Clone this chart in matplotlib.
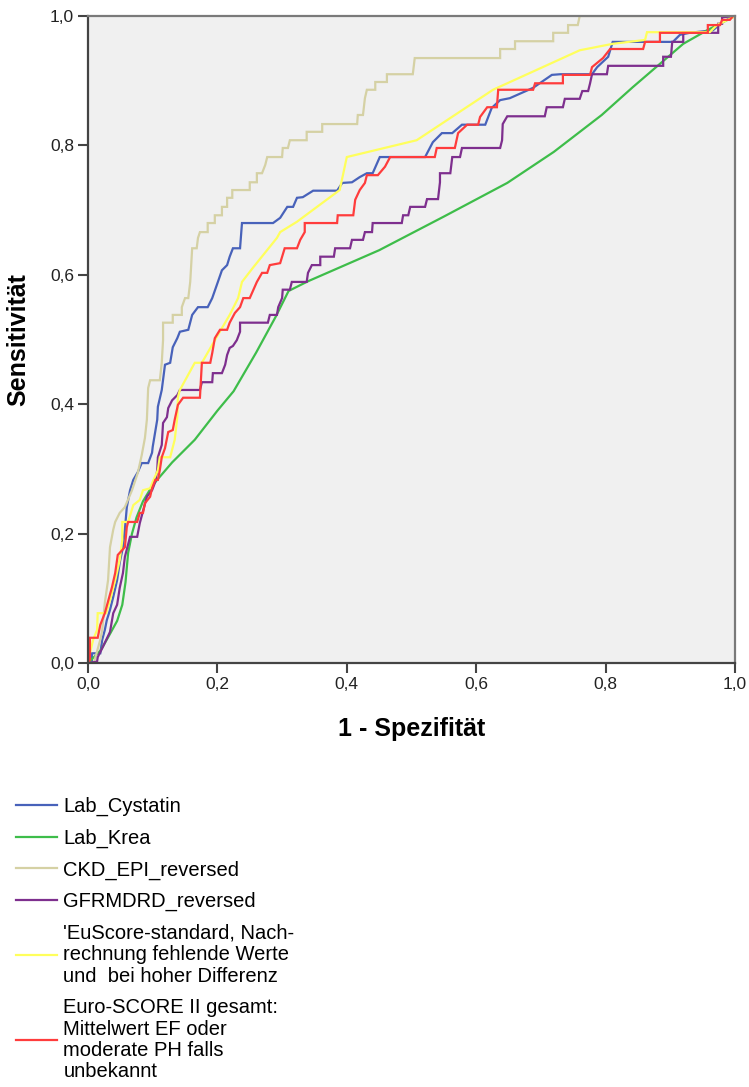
import matplotlib
matplotlib.use("Agg")
import matplotlib.pyplot as plt
from matplotlib.ticker import FuncFormatter

plt.rcParams['font.family'] = ['Liberation Sans', 'DejaVu Sans']

# ROC curves (1 - Spezifitaet, Sensitivitaet)
cystatin = [(0, 0), (.006, .002), (.006, .015), (.019, .015), (.022, .036), (.026, .051),
            (.029, .066), (.034, .082), (.039, .102), (.045, .128), (.049, .155), (.054, .179),
            (.057, .206), (.060, .241), (.065, .267), (.070, .283), (.077, .295), (.083, .309),
            (.093, .309), (.099, .325), (.100, .334), (.107, .376), (.108, .396), (.114, .422),
            (.119, .461), (.127, .464), (.131, .488), (.138, .502), (.142, .512), (.155, .515),
            (.161, .538), (.170, .550), (.185, .550), (.192, .564), (.199, .584), (.207, .607),
            (.215, .615), (.219, .628), (.224, .641), (.235, .641), (.238, .680), (.286, .680),
            (.297, .688), (.308, .705), (.317, .705), (.323, .719), (.332, .720), (.348, .730),
            (.385, .730), (.393, .742), (.408, .743), (.420, .751), (.431, .757), (.440, .757),
            (.451, .782), (.521, .782), (.533, .805), (.547, .819), (.563, .819), (.578, .832),
            (.614, .832), (.624, .858), (.637, .870), (.652, .873), (.688, .889), (.717, .909),
            (.730, .910), (.779, .910), (.787, .921), (.804, .937), (.811, .960), (.904, .960),
            (.915, .971), (.930, .974), (.966, .978), (.981, .991), (1, 1)]

krea = [(0, 0), (.01, .01), (.02, .02), (.034, .045), (.045, .065), (.053, .09), (.058, .125),
        (.062, .17), (.068, .2), (.075, .225), (.085, .25), (.1, .275), (.13, .31), (.165, .345),
        (.2, .39), (.225, .42), (.26, .48), (.29, .535), (.31, .575), (.34, .59), (.45, .638),
        (.55, .69), (.648, .742), (.72, .79), (.794, .847), (.842, .89), (.92, .957),
        (.957, .978), (1, 1)]

ckd_epi = [(0, 0), (.009, 0), (.019, .036), (.022, .051), (.026, .093), (.031, .128),
           (.034, .179), (.039, .206), (.042, .218), (.049, .232), (.057, .241), (.068, .267),
           (.077, .294), (.083, .321), (.088, .348), (.091, .376), (.093, .425), (.096, .437),
           (.111, .437), (.114, .464), (.116, .499), (.116, .526), (.131, .526), (.131, .538),
           (.145, .538), (.145, .550), (.150, .564), (.155, .564), (.158, .589), (.161, .641),
           (.168, .641), (.170, .657), (.173, .666), (.185, .666), (.185, .680), (.196, .680),
           (.196, .692), (.207, .692), (.207, .705), (.215, .705), (.215, .719), (.223, .719),
           (.223, .731), (.250, .731), (.250, .743), (.261, .743), (.261, .757), (.269, .757),
           (.274, .770), (.277, .782), (.300, .782), (.301, .796), (.309, .796), (.312, .808),
           (.338, .808), (.338, .821), (.362, .821), (.362, .833), (.416, .833), (.417, .847),
           (.425, .847), (.428, .873), (.431, .886), (.444, .886), (.444, .898), (.462, .898),
           (.462, .910), (.502, .910), (.505, .935), (.637, .935), (.637, .949), (.660, .949),
           (.660, .961), (.719, .961), (.719, .974), (.742, .974), (.742, .986), (.757, .986),
           (.760, 1), (1, 1)]

gfrmdrd = [(0, 0), (.014, .002), (.015, .009), (.023, .025), (.034, .048), (.039, .077),
           (.045, .090), (.049, .116), (.054, .139), (.057, .164), (.065, .195), (.076, .195),
           (.080, .216), (.091, .257), (.099, .267), (.104, .280), (.107, .298), (.108, .318),
           (.114, .337), (.116, .371), (.122, .380), (.124, .394), (.130, .406), (.138, .414),
           (.142, .422), (.173, .422), (.176, .434), (.192, .434), (.193, .448), (.207, .448),
           (.212, .461), (.215, .476), (.219, .487), (.224, .490), (.230, .499), (.235, .512),
           (.235, .526), (.278, .526), (.281, .538), (.292, .538), (.294, .550), (.300, .564),
           (.301, .577), (.312, .577), (.315, .589), (.338, .589), (.340, .603), (.346, .615),
           (.359, .615), (.359, .628), (.380, .628), (.382, .641), (.405, .641), (.408, .654),
           (.425, .654), (.428, .666), (.439, .666), (.440, .680), (.485, .680), (.487, .692),
           (.495, .692), (.498, .705), (.521, .705), (.524, .717), (.541, .717), (.544, .743),
           (.544, .757), (.560, .757), (.563, .782), (.575, .782), (.578, .796), (.637, .796),
           (.640, .808), (.641, .833), (.648, .845), (.706, .845), (.709, .859), (.734, .859),
           (.737, .872), (.760, .872), (.764, .884), (.773, .884), (.776, .896), (.779, .910),
           (.802, .910), (.804, .923), (.889, .923), (.889, .937), (.901, .937), (.903, .960),
           (.920, .960), (.920, .974), (.974, .974), (.974, .988), (.980, .988), (.980, .998),
           (1, 1)]

euscore = [(0, 0), (.003, .015), (.008, .036), (.014, .051), (.015, .077), (.028, .077),
           (.034, .097), (.042, .128), (.049, .159), (.053, .190), (.053, .218), (.062, .218),
           (.070, .244), (.080, .252), (.085, .267), (.096, .270), (.100, .280), (.108, .298),
           (.111, .318), (.127, .318), (.134, .345), (.138, .380), (.139, .411), (.142, .422),
           (.165, .464), (.176, .464), (.199, .504), (.219, .538), (.232, .564), (.238, .589),
           (.255, .611), (.292, .657), (.297, .666), (.323, .682), (.389, .731), (.394, .754),
           (.400, .782), (.508, .808), (.626, .886), (.760, .947), (.811, .957), (.861, .963),
           (.864, .975), (.884, .975), (.961, .975), (.972, .986), (.997, .998), (1, 1)]

euroscore2 = [(0, 0), (.003, .005), (.003, .039), (.015, .039), (.019, .059), (.026, .077),
              (.037, .117), (.042, .139), (.046, .167), (.057, .179), (.060, .210), (.062, .218),
              (.076, .218), (.080, .232), (.085, .232), (.088, .247), (.096, .257), (.099, .270),
              (.104, .283), (.108, .283), (.111, .298), (.114, .318), (.119, .332), (.124, .357),
              (.131, .360), (.134, .376), (.139, .399), (.147, .410), (.173, .410), (.176, .464),
              (.189, .464), (.192, .479), (.196, .502), (.204, .515), (.215, .515), (.219, .526),
              (.227, .541), (.235, .550), (.240, .564), (.250, .564), (.261, .589), (.269, .603),
              (.277, .603), (.281, .615), (.297, .618), (.304, .641), (.323, .641), (.328, .654),
              (.335, .666), (.335, .680), (.385, .680), (.386, .692), (.410, .692), (.413, .716),
              (.420, .731), (.428, .742), (.431, .754), (.448, .754), (.459, .767), (.467, .782),
              (.536, .782), (.539, .796), (.567, .796), (.572, .819), (.586, .832), (.603, .832),
              (.606, .844), (.617, .859), (.632, .859), (.634, .886), (.688, .886), (.691, .896),
              (.734, .896), (.734, .909), (.776, .909), (.779, .921), (.796, .935), (.807, .949),
              (.858, .949), (.861, .960), (.884, .960), (.884, .974), (.958, .974), (.958, .986),
              (.977, .986), (.980, .994), (.992, .994), (.997, 1), (1, 1)]

labels = ["Lab_Cystatin",
          "Lab_Krea",
          "CKD_EPI_reversed",
          "GFRMDRD_reversed",
          "'EuScore-standard, Nach-\nrechnung fehlende Werte\nund  bei hoher Differenz",
          "Euro-SCORE II gesamt:\nMittelwert EF oder\nmoderate PH falls\nunbekannt"]
colors = ["#4862BA", "#3EBD4A", "#D5D1A4", "#7E2F8E", "#FFFF5C", "#FF3C3C"]
curves = [cystatin, krea, ckd_epi, gfrmdrd, euscore, euroscore2]

fig = plt.figure(figsize=(7.49, 10.87), dpi=100)
ax = fig.add_axes([88 / 749, 1 - 663 / 1087, 647 / 749, 647 / 1087])
ax.set_facecolor("#F0F0F0")

handles = []
for pts, col, lab in zip(curves, colors, labels):
    xs = [p[0] for p in pts]
    ys = [p[1] for p in pts]
    h, = ax.plot(xs, ys, color=col, lw=1.6, label=lab, solid_joinstyle='miter')
    handles.append(h)

ax.set_xlim(0, 1)
ax.set_ylim(0, 1)
ticks = [0, 0.2, 0.4, 0.6, 0.8, 1.0]
ax.set_xticks(ticks)
ax.set_yticks(ticks)
fmt = FuncFormatter(lambda v, _: f"{v:.1f}".replace(".", ","))
ax.xaxis.set_major_formatter(fmt)
ax.yaxis.set_major_formatter(fmt)
ax.tick_params(direction='out', length=7, width=1.5, color='#444444',
               labelsize=12.5, labelcolor='#222222', pad=3)

for s in ['left', 'bottom']:
    ax.spines[s].set_color('#444444')
    ax.spines[s].set_linewidth(1.6)
for s in ['top', 'right']:
    ax.spines[s].set_color('#7a7a7a')
    ax.spines[s].set_linewidth(1.6)

ax.set_xlabel("1 - Spezifität", fontsize=18, fontweight='bold', labelpad=18)
ax.set_ylabel("Sensitivität", fontsize=18, fontweight='bold', labelpad=14)

leg = fig.legend(handles=handles, labels=labels, loc='upper left',
                 bbox_to_anchor=(16 / 749, 1 - 797 / 1087), frameon=False,
                 fontsize=14.5, handlelength=2.05, handletextpad=0.3,
                 labelspacing=0.62, borderpad=0, borderaxespad=0)
for t in leg.get_texts():
    t.set_linespacing(1.16)

fig.savefig("out.png", dpi=100, facecolor='white')
